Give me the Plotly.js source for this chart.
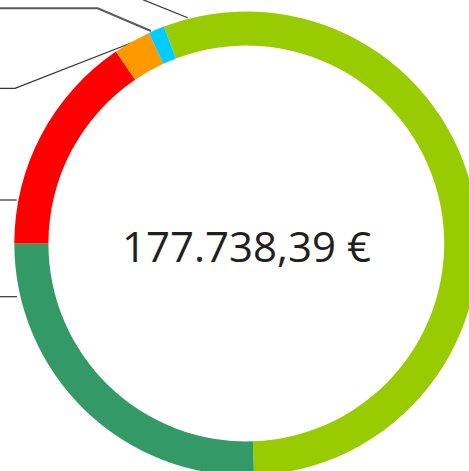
<!DOCTYPE html>
<html>
<head>
<meta charset="utf-8">
<script src="https://cdn.plot.ly/plotly-3.0.1.min.js"></script>
<style>
html,body{margin:0;padding:0;overflow:hidden;background:#fff;}
#chart{width:480px;height:480px;}
</style>
</head>
<body>
<div id="chart"></div>
<script>
// Data
var categories = ["Segment A", "Segment B", "Segment C", "Segment D", "Segment E"];
var values = [98200.00, 45377.39, 27549.00, 4639.00, 1973.00];
var colors = ["#99CC00", "#339966", "#FF0000", "#FF9900", "#00CCFF"];
var totalLabel = "177.738,39 €";

var W = 480, H = 480;
function px(x){ return x / W; }
function py(y){ return 1 - y / H; }
function pathPx(points){
  return points.map(function(p, i){ return (i ? "L" : "M") + px(p[0]) + "," + py(p[1]); }).join(" ");
}

var leaderLines = [
  [[0, 8.3], [97.7, 8.3], [151, 31]],
  [[130, -5.5], [187.7, 17.7]],
  [[0, 88.3], [15, 88.3], [131.7, 42.7]],
  [[0, 200], [16.7, 200]],
  [[0, 296.7], [17, 296.7]]
];

var shapes = leaderLines.map(function(pts, i){
  return {
    type: "path", xref: "paper", yref: "paper",
    path: pathPx(pts),
    line: {color: i === 0 ? "#5a5a5a" : "#333333", width: i === 0 ? 2 : 1.2},
    layer: "below"
  };
});

var trace = {
  type: "pie",
  labels: categories,
  values: values,
  marker: {colors: colors, line: {width: 0}},
  hole: 0.853,
  sort: false,
  direction: "clockwise",
  rotation: -20.8,
  textinfo: "none",
  hoverinfo: "label+value",
  showlegend: false,
  domain: {x: [14.3 / W, 478.3 / W], y: [(H - 475.5) / H, (H - 11.5) / H]}
};

var layout = {
  width: W, height: H,
  margin: {l: 0, r: 0, t: 0, b: 0, pad: 0},
  paper_bgcolor: "#ffffff",
  showlegend: false,
  shapes: shapes,
  annotations: [{
    text: totalLabel,
    xref: "paper", yref: "paper",
    x: px(246.3), y: py(246),
    xanchor: "center", yanchor: "middle",
    showarrow: false,
    font: {family: "Open Sans, Noto Sans, sans-serif", size: 42, color: "#231f20"}
  }]
};

Plotly.newPlot("chart", [trace], layout, {displayModeBar: false, staticPlot: true});
</script>
</body>
</html>
